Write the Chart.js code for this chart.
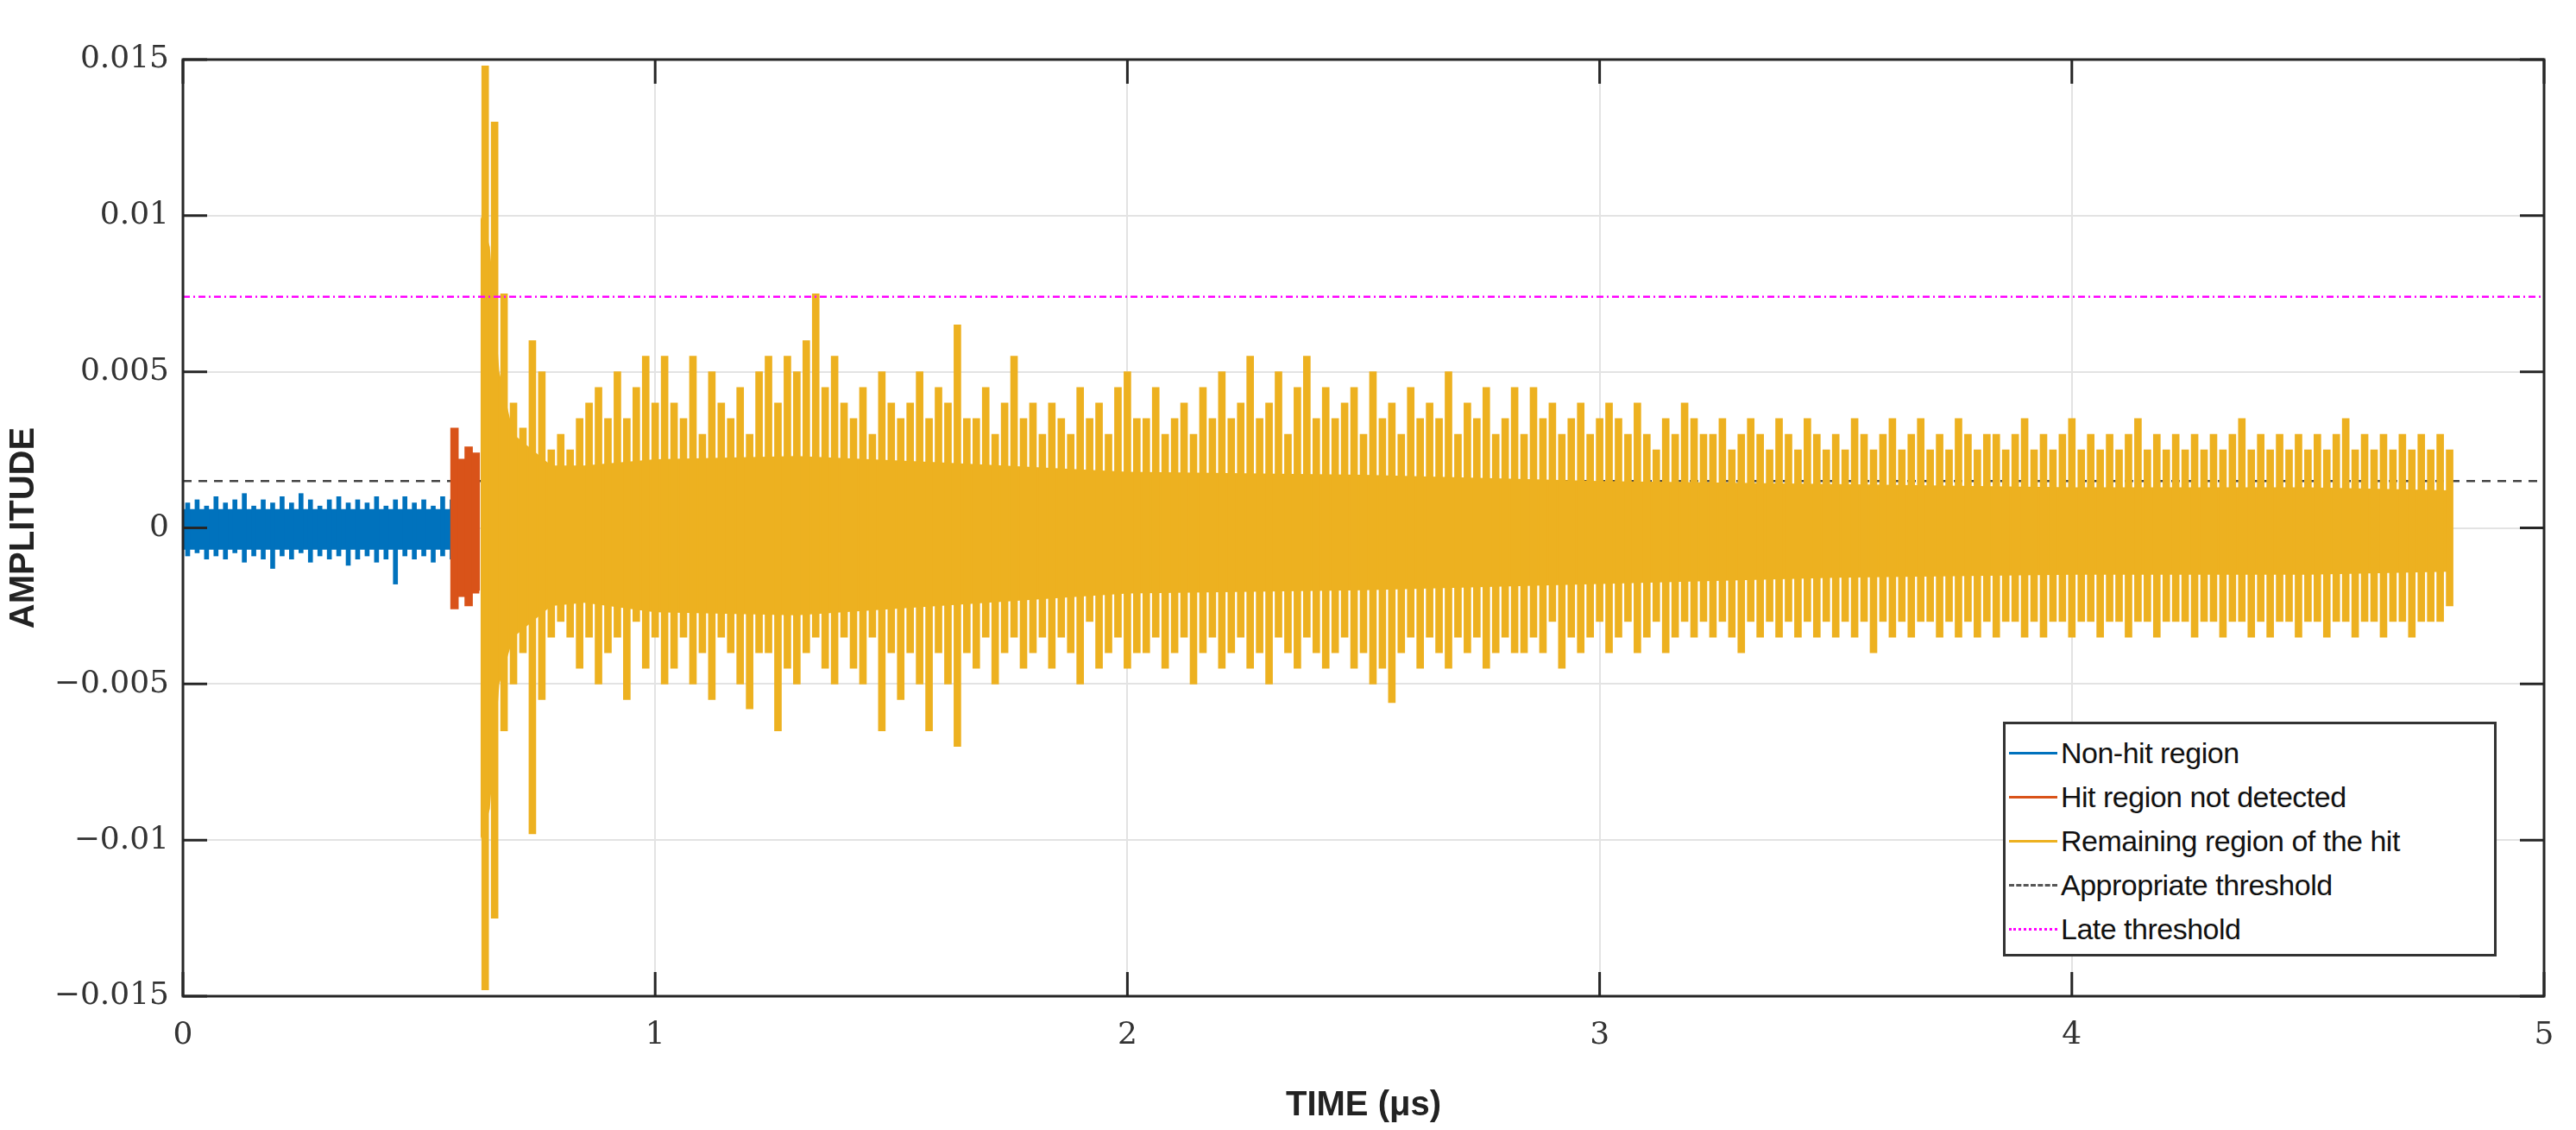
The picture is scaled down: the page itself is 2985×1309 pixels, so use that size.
<!DOCTYPE html>
<html><head><meta charset="utf-8">
<script src="https://cdn.jsdelivr.net/npm/chart.js@4/dist/chart.umd.min.js"></script>
<style>
html,body{margin:0;padding:0;background:#fff;}
#wrap{position:relative;width:2985px;height:1309px;}
#legend{position:absolute;left:2321px;top:836px;width:572px;height:272px;border:3px solid #333;background:#fff;box-sizing:border-box;font-family:"Liberation Sans",Arial,sans-serif;font-size:34px;color:#111;padding:8px 0 0 4px;letter-spacing:-0.5px;}
#legend div{height:51px;line-height:51px;display:flex;align-items:center;}
#legend span.s{display:inline-block;width:56px;margin-right:4px;height:0;}
</style></head><body>
<div id="wrap"><canvas id="c" width="2985" height="1309"></canvas>
<div id="legend">
<div><span class="s" style="border-top:3px solid #0072BD"></span>Non-hit region</div>
<div><span class="s" style="border-top:3px solid #D95319"></span>Hit region not detected</div>
<div><span class="s" style="border-top:3px solid #EDB120"></span>Remaining region of the hit</div>
<div><span class="s" style="border-top:3px dashed #555"></span>Appropriate threshold</div>
<div><span class="s" style="border-top:3px dotted #FF00FF"></span>Late threshold</div>
</div></div>
<script>
// amplitudes in units of 1e-3
const blueStart = 0.01, blueStep = 0.02;
const blueHi = [0.8,0.9,0.7,1.0,0.8,0.9,1.1,0.7,0.9,0.8,1.0,0.8,1.1,0.9,0.7,0.9,1.0,0.8,0.9,0.8,1.0,0.7,0.9,1.0,0.8,0.9,0.7,1.0,0.9];
const blueLo = [-0.9,-0.8,-1.0,-0.9,-1.0,-0.8,-1.1,-0.9,-1.0,-1.3,-0.9,-1.0,-0.8,-1.1,-0.9,-1.0,-0.9,-1.2,-1.0,-0.9,-1.1,-1.0,-1.8,-0.9,-1.0,-0.9,-1.1,-0.9,-1.0];
const redT = [0.575,0.59,0.605,0.62];
const redHi = [3.2,2.2,2.6,2.4];
const redLo = [-2.6,-2.2,-2.5,-2.0];
const orangeStart = 0.64, orangeStep = 0.02;
const orangeHi = [14.8,13,7.5,4,3.2,6,5,2.5,3,2.5,
3.5,4,4.5,3.5,5,3.5,4.5,5.5,4,5.5,
4,3.5,5.5,3,5,4,3.5,4.5,3,5,
5.5,4,5.5,5,6,7.5,4.5,5.5,4,3.5,
4.5,3,5,4,3.5,4,5,3.5,4.5,4,
6.5,3.5,3.5,4.5,3,4,5.5,3.5,4,3,
4,3.5,3,4.5,3.5,4,3,4.5,5,3.5,
3.5,4.5,3,3.5,4,3,4.5,3.5,5,3.5,
4,5.5,3.5,4,5,3,4.5,5.5,3.5,4.5,
3.5,4,4.5,3,5,3.5,4,3,4.5,3.5,
4,3.5,5,3,4,3.5,4.5,3,3.5,4.5,
3,4.5,3.5,4,3,3.5,4,3,3.5,4,
3.5,3,4,3,2.5,3.5,3,4,3.5,3,
3,3.5,2.5,3,3.5,3,2.5,3.5,3,2.5,
3.5,3,2.5,3,2.5,3.5,3,2.5,3,3.5,
2.5,3,3.5,2.5,3,2.5,3.5,3,2.5,3,
3,2.5,3,3.5,2.5,3,2.5,3,3.5,2.5,
3,2.5,3,2.5,3,3.5,2.5,3,2.5,3,
2.5,3,2.5,3,2.5,3,3.5,2.5,3,2.5,
3,2.5,3,2.5,3,2.5,3,3.5,2.5,3,
2.5,3,2.5,3,2.5,3,2.5,3,2.5];
const orangeLo = [-14.8,-12.5,-6.5,-5,-4,-9.8,-5.5,-3.5,-3,-3.5,
-4.5,-3.5,-5,-4,-3.5,-5.5,-3,-4.5,-3.5,-5,
-4.5,-3.5,-5,-4,-5.5,-3.5,-4,-5,-5.8,-4,
-4,-6.5,-4.5,-5,-4,-3.5,-4.5,-5,-3.5,-4.5,
-5,-3.5,-6.5,-4,-5.5,-4,-5,-6.5,-4,-5,
-7,-4,-4.5,-3.5,-5,-4,-3.5,-4.5,-4,-3.5,
-4.5,-3.5,-4,-5,-3,-4.5,-4,-3.5,-4.5,-4,
-4,-3.5,-4.5,-4,-3.5,-5,-4,-3.5,-4.5,-4,
-3.5,-4.5,-4,-5,-3.5,-4,-4.5,-3.5,-4,-4.5,
-4,-3.5,-4.5,-4,-5,-4.5,-5.6,-4,-3.5,-4.5,
-3.5,-4,-4.5,-3.5,-4,-3.5,-4.5,-4,-3.5,-4,
-4,-3.5,-4,-3,-4.5,-3.5,-4,-3.5,-3,-4,
-3.5,-3,-4,-3.5,-3,-4,-3.5,-3,-3.5,-3,
-3.5,-3,-3.5,-4,-3,-3.5,-3,-3.5,-3,-3.5,
-3,-3.5,-3,-3.5,-3,-3.5,-3,-4,-3,-3.5,
-3,-3.5,-3,-3,-3.5,-3,-3.5,-3,-3.5,-3,
-3.5,-3,-3,-3.5,-3,-3.5,-3,-3,-3.5,-3,
-3,-3.5,-3,-3,-3.5,-3,-3,-3.5,-3,-3,
-3,-3.5,-3,-3,-3.5,-3,-3,-3.5,-3,-3.5,
-3,-3,-3.5,-3,-3,-3.5,-3,-3,-3.5,-3,
-3,-3.5,-3,-3,-3.5,-3,-3,-3,-2.5];
// dense core envelope of the hit
const coreT  = [0.63,0.65,0.67,0.70,0.74,0.78,0.85,1.0,1.3,1.6,2.0,2.5,3.0,3.5,4.0,4.5,4.8];
const coreHi = [10,9,5,3,2.5,2,2.0,2.2,2.3,2.1,1.8,1.7,1.5,1.4,1.3,1.3,1.2];
const coreLo = [-10,-9,-5,-3.5,-3,-2.5,-2.4,-2.7,-2.8,-2.5,-2.1,-2.0,-1.8,-1.6,-1.5,-1.5,-1.4];
const blueCore = [0.0,0.57]; const blueCoreHi = 0.6, blueCoreLo = -0.7;
const appThreshold = 1.5, lateThreshold = 7.4;
const xTicks = [0,1,2,3,4,5];
const yTicks = [-0.015,-0.01,-0.005,0,0.005,0.01,0.015];

const K = v => v/1000;
const blueBars = blueHi.map((h,i)=>({x:blueStart+i*blueStep,y:[K(blueLo[i]),K(h)]}));
const redBars = redHi.map((h,i)=>({x:redT[i],y:[K(redLo[i]),K(h)]}));
const orBars = orangeHi.map((h,i)=>({x:orangeStart+i*orangeStep,y:[K(orangeLo[i]),K(h)]}));
const BLUE='#0072BD', RED='#D95319', OR='#EDB120';
const lineDs = (pts,color,extra)=>Object.assign({type:'line',data:pts,borderColor:color,backgroundColor:color,pointRadius:0,borderWidth:0,tension:0},extra||{});

const boxPlugin={id:'box',afterDraw(c){const a=c.chartArea,x=c.ctx;x.save();x.strokeStyle='#262626';x.lineWidth=3;x.strokeRect(a.left,a.top,a.right-a.left,a.bottom-a.top);
 const sx=c.scales.x, sy=c.scales.y;
 xTicks.forEach(t=>{const p=sx.getPixelForValue(t);x.beginPath();x.moveTo(p,a.bottom);x.lineTo(p,a.bottom-28);x.moveTo(p,a.top);x.lineTo(p,a.top+28);x.stroke();});
 yTicks.forEach(t=>{const p=sy.getPixelForValue(t);x.beginPath();x.moveTo(a.left,p);x.lineTo(a.left+28,p);x.moveTo(a.right,p);x.lineTo(a.right-28,p);x.stroke();});
 x.restore();}};

new Chart(document.getElementById('c'),{
 type:'bar',
 data:{datasets:[
  lineDs([{x:0,y:K(lateThreshold)},{x:5,y:K(lateThreshold)}],'#FF00FF',{borderWidth:2.5,borderDash:[8,4,2,4],fill:false}),
  {type:'bar',data:orBars,backgroundColor:OR,barThickness:8,grouped:false},
  lineDs(coreT.map((t,i)=>({x:t,y:K(coreLo[i])})),OR,{fill:false}),
  lineDs(coreT.map((t,i)=>({x:t,y:K(coreHi[i])})),OR,{fill:'-1'}),
  {type:'bar',data:redBars,backgroundColor:RED,barThickness:9,grouped:false},
  lineDs([{x:0.572,y:K(-2.1)},{x:0.628,y:K(-2.1)}],RED,{fill:false}),
  lineDs([{x:0.572,y:K(2.2)},{x:0.628,y:K(2.2)}],RED,{fill:'-1'}),
  {type:'bar',data:blueBars,backgroundColor:BLUE,barThickness:5,grouped:false},
  lineDs(blueCore.map(t=>({x:t,y:K(blueCoreLo)})),BLUE,{fill:false}),
  lineDs(blueCore.map(t=>({x:t,y:K(blueCoreHi)})),BLUE,{fill:'-1'}),
  lineDs([{x:0,y:K(appThreshold)},{x:5,y:K(appThreshold)}],'#444',{borderWidth:2.5,borderDash:[10,8],fill:false})
 ]},
 options:{responsive:false,animation:false,events:[],
  layout:{padding:{top:69,right:37,left:0,bottom:0}},
  plugins:{legend:{display:false},tooltip:{enabled:false}},
  scales:{
   x:{type:'linear',min:0,max:5,offset:false,
     afterBuildTicks(s){s.ticks=xTicks.map(v=>({value:v}));},
     afterFit(s){s.height=155;},
     grid:{color:'#e3e3e3',lineWidth:2,drawTicks:false,offset:false},border:{display:false},
     ticks:{padding:24,color:'#333',font:{family:'"DejaVu Serif","Liberation Serif",serif',size:36},callback:v=>String(v)},
     title:{display:true,text:'TIME (μs)',color:'#222',font:{family:'"Liberation Sans",Arial,sans-serif',size:40,weight:'bold'},padding:{top:12}}},
   y:{min:-0.015,max:0.015,
     afterBuildTicks(s){s.ticks=yTicks.map(v=>({value:v}));},
     afterFit(s){s.width=212;},
     grid:{color:'#e3e3e3',lineWidth:2,drawTicks:false},border:{display:false},
     ticks:{padding:16,color:'#333',font:{family:'"DejaVu Serif","Liberation Serif",serif',size:36},
       callback:v=>v===0?'0':(v<0?'−':'')+String(Math.abs(Math.round(v*1000))/1000)},
     title:{display:true,text:'AMPLITUDE',color:'#222',font:{family:'"Liberation Sans",Arial,sans-serif',size:40,weight:'bold'},padding:{bottom:2}}}
  }},
 plugins:[boxPlugin]
});
</script></body></html>
